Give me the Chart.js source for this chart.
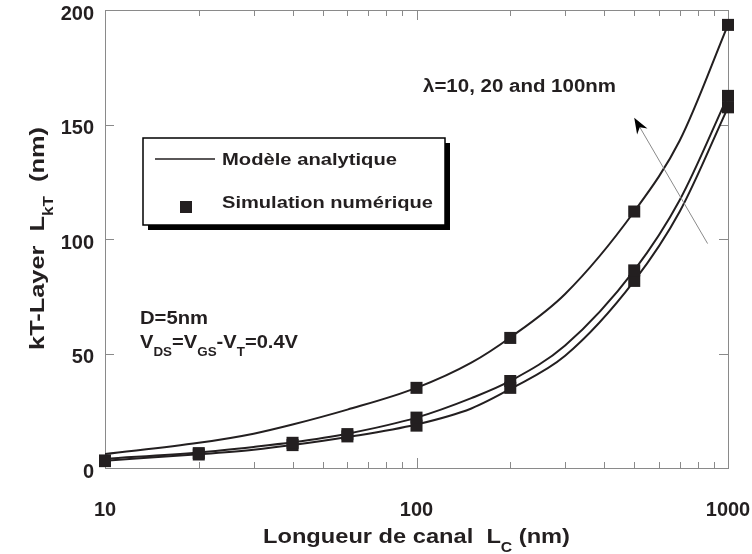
<!DOCTYPE html>
<html>
<head>
<meta charset="utf-8">
<script src="https://cdn.jsdelivr.net/npm/chart.js@4.4.1/dist/chart.umd.min.js"></script>
<style>
  html, body { margin: 0; padding: 0; background: #fff; }
  #wrap { width: 752px; height: 554px; }
</style>
</head>
<body>
<div id="wrap"><canvas id="canvas1" width="752" height="554"></canvas></div>
<script>
// channel length (nm) where the model curves were read
var curveL = [10, 20, 30, 40, 60, 100, 150, 200, 300, 500, 700, 1000];
// analytic model, lambda = 100, 20, 10 nm
var model100 = [6.1, 11, 15, 19, 25.5, 35, 46, 57, 76, 112, 143, 193.5];
var model20  = [4.0, 6.8, 9.2, 11.2, 15, 22, 30.5, 38, 53.5, 86.3, 117, 162.5];
var model10  = [3.2, 6.0, 8.0, 10, 13.5, 19, 26, 34.5, 49, 81.7, 112, 157.5];

// numerical simulation points
var simL100 = [100, 200, 500, 1000];
var sim100  = [35, 56.8, 112, 193.5];
var simL    = [10, 20, 40, 60, 100, 200, 500, 1000];
var sim20   = [3.3, 6.5, 11, 14.8, 22, 38, 86.3, 162.5];
var sim10   = [3.0, 5.9, 10, 13.8, 18.5, 35, 81.7, 157.5];

var xLabels = [10, 100, 1000];
var xMinor = [20, 30, 40, 50, 60, 70, 80, 90, 200, 300, 400, 500, 600, 700, 800, 900];
var yTicks = [0, 50, 100, 150, 200];

// arrow for the lambda annotation, in data units [L, LkT]
var arrowFrom = [860, 98];
var arrowTo = [500, 153];

var FONT = '"Liberation Sans", Arial, Helvetica, sans-serif';
var INK = '#231f20';

function pts(xs, ys) {
    var out = [];
    for (var i = 0; i < xs.length; i++) out.push({x: xs[i], y: ys[i]});
    return out;
}

function lineSet(data) {
    return {
        type: 'line', data: pts(curveL, data), borderColor: INK, borderWidth: 2,
        pointRadius: 0, fill: false, cubicInterpolationMode: 'monotone', order: 2
    };
}
function simSet(xs, ys) {
    return {
        type: 'scatter', data: pts(xs, ys), pointStyle: 'rect', pointRadius: 8.5,
        backgroundColor: INK, borderColor: INK, borderWidth: 0, order: 1, clip: false
    };
}

// text with subscripts, stretched to the width it has in the figure
function drawRich(ctx, segs, x, y, size, targetW) {
    var sub = Math.round(size * 0.68);
    var w = 0;
    segs.forEach(function(s){
        ctx.font = 'bold ' + (s.sub ? sub : size) + 'px ' + FONT;
        w += ctx.measureText(s.t).width;
    });
    var sx = targetW ? targetW / w : 1;
    ctx.save();
    ctx.translate(x, y);
    ctx.scale(sx, 1);
    ctx.fillStyle = INK;
    ctx.textBaseline = 'alphabetic';
    ctx.textAlign = 'left';
    var cx = 0;
    segs.forEach(function(s){
        ctx.font = 'bold ' + (s.sub ? sub : size) + 'px ' + FONT;
        ctx.fillText(s.t, cx, s.sub ? size * 0.42 : 0);
        cx += ctx.measureText(s.t).width;
    });
    ctx.restore();
}

var framePlugin = {
    id: 'frame',
    beforeDatasetsDraw: function(chart) {
        var ctx = chart.ctx, a = chart.chartArea;
        var xs = chart.scales.x, ys = chart.scales.y;
        ctx.save();
        ctx.strokeStyle = '#8a8a8a';
        ctx.lineWidth = 1;
        ctx.strokeRect(a.left + 0.5, a.top + 0.5, a.right - a.left, a.bottom - a.top);
        ctx.beginPath();
        yTicks.forEach(function(v){
            var p = Math.round(ys.getPixelForValue(v)) + 0.5;
            ctx.moveTo(a.left, p); ctx.lineTo(a.left + 9, p);
            ctx.moveTo(a.right, p); ctx.lineTo(a.right - 9, p);
        });
        xLabels.forEach(function(v){
            var p = Math.round(xs.getPixelForValue(v)) + 0.5;
            ctx.moveTo(p, a.bottom); ctx.lineTo(p, a.bottom - 10);
            ctx.moveTo(p, a.top); ctx.lineTo(p, a.top + 10);
        });
        xMinor.forEach(function(v){
            var p = Math.round(xs.getPixelForValue(v)) + 0.5;
            ctx.moveTo(p, a.bottom); ctx.lineTo(p, a.bottom - 6);
            ctx.moveTo(p, a.top); ctx.lineTo(p, a.top + 6);
        });
        ctx.stroke();
        ctx.restore();
    },
    afterDraw: function(chart) {
        var ctx = chart.ctx;
        var xs = chart.scales.x, ys = chart.scales.y;

        // legend box with drop shadow
        ctx.save();
        ctx.fillStyle = '#000';
        ctx.fillRect(148, 143, 302, 87);
        ctx.fillStyle = '#fff';
        ctx.fillRect(143, 138, 302, 87);
        ctx.strokeStyle = '#000';
        ctx.lineWidth = 1.5;
        ctx.strokeRect(143, 138, 302, 87);
        ctx.strokeStyle = INK;
        ctx.lineWidth = 1.5;
        ctx.beginPath(); ctx.moveTo(155, 159); ctx.lineTo(215, 159); ctx.stroke();
        ctx.fillStyle = INK;
        ctx.fillRect(180, 201, 12, 12);
        ctx.restore();
        drawRich(ctx, [{t: 'Modèle analytique'}], 222, 165, 17, 175);
        drawRich(ctx, [{t: 'Simulation numérique'}], 222, 208, 17, 211);

        // annotations
        drawRich(ctx, [{t: 'λ=10, 20 and 100nm'}], 423, 92, 18, 193);
        drawRich(ctx, [{t: 'D=5nm'}], 140, 324, 18, 68);
        drawRich(ctx, [{t: 'V'}, {t: 'DS', sub: true}, {t: '=V'}, {t: 'GS', sub: true},
                       {t: '-V'}, {t: 'T', sub: true}, {t: '=0.4V'}], 140, 348, 18, 158);

        // arrow
        var x0 = xs.getPixelForValue(arrowFrom[0]), y0 = ys.getPixelForValue(arrowFrom[1]);
        var x1 = xs.getPixelForValue(arrowTo[0]), y1 = ys.getPixelForValue(arrowTo[1]);
        var ang = Math.atan2(y1 - y0, x1 - x0);
        ctx.save();
        ctx.strokeStyle = '#8a8a8a';
        ctx.lineWidth = 1;
        ctx.beginPath(); ctx.moveTo(x0, y0); ctx.lineTo(x1 - 8 * Math.cos(ang), y1 - 8 * Math.sin(ang)); ctx.stroke();
        ctx.translate(x1, y1);
        ctx.rotate(ang);
        ctx.fillStyle = '#000';
        ctx.beginPath();
        ctx.moveTo(0, 0);
        ctx.lineTo(-16, -6);
        ctx.lineTo(-11, 0);
        ctx.lineTo(-16, 6);
        ctx.closePath();
        ctx.fill();
        ctx.restore();

        // axis titles
        drawRich(ctx, [{t: 'Longueur de canal  L'}, {t: 'C', sub: true}, {t: ' (nm)'}], 263, 543, 21, 307);
        ctx.save();
        ctx.translate(44, 350);
        ctx.rotate(-Math.PI / 2);
        drawRich(ctx, [{t: 'kT-Layer  L'}, {t: 'kT', sub: true}, {t: '  (nm)'}], 0, 0, 21, 223);
        ctx.restore();
    }
};

var ctx = document.getElementById('canvas1');
var chart = new Chart(ctx, {
    data: {
        datasets: [
            simSet(simL100, sim100), simSet(simL, sim20), simSet(simL, sim10),
            lineSet(model100), lineSet(model20), lineSet(model10)
        ]
    },
    options: {
        responsive: false,
        animation: false,
        layout: { padding: { left: 0, right: 24, top: 10, bottom: 0 } },
        plugins: { legend: { display: false }, tooltip: { enabled: false } },
        scales: {
            x: {
                type: 'logarithmic', min: 10, max: 1000,
                grid: { display: false, drawTicks: false },
                border: { display: false },
                afterBuildTicks: function(s){ s.ticks = xLabels.map(function(v){ return {value: v}; }); },
                afterFit: function(s){ s.height = 86; s.paddingLeft = 0; s.paddingRight = 0; },
                ticks: {
                    color: INK, padding: 30, maxRotation: 0, autoSkip: false,
                    font: { family: FONT, size: 20, weight: 'bold' },
                    callback: function(v){ return String(v); }
                }
            },
            y: {
                type: 'linear', min: 0, max: 200,
                grid: { display: false, drawTicks: false },
                border: { display: false },
                afterBuildTicks: function(s){ s.ticks = yTicks.map(function(v){ return {value: v}; }); },
                afterFit: function(s){ s.width = 105; s.paddingTop = 0; s.paddingBottom = 0; },
                ticks: {
                    color: INK, padding: 11, labelOffset: 4,
                    font: { family: FONT, size: 20, weight: 'bold' }
                }
            }
        }
    },
    plugins: [framePlugin]
});
</script>
</body>
</html>
